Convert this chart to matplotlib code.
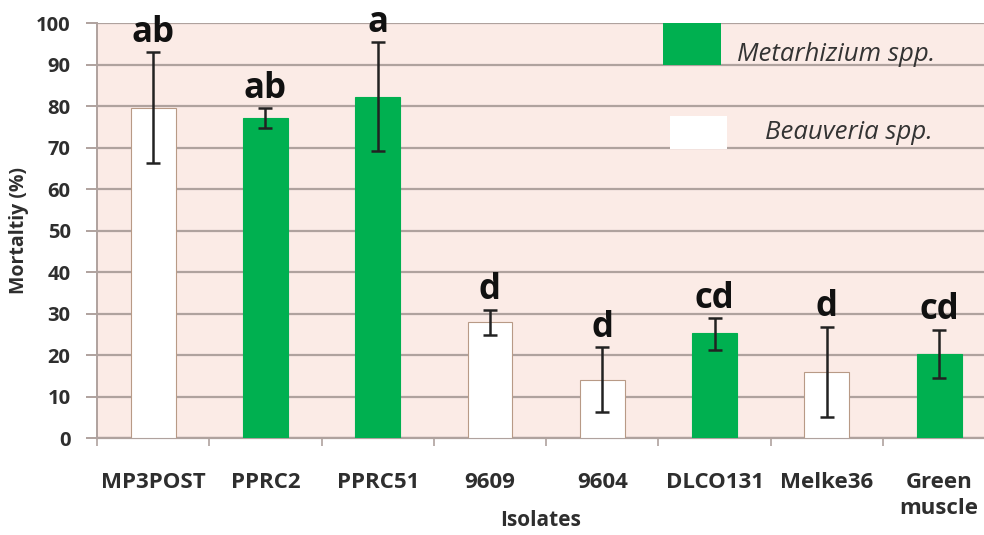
"""Mortality (%) of isolates, bar chart with SE bars and letter groups."""
import numpy as np
import matplotlib
matplotlib.use("Agg")
import matplotlib.pyplot as plt
from matplotlib.patches import Rectangle

isolates = ["MP3POST", "PPRC2", "PPRC51", "9609", "9604", "DLCO131", "Melke36", "Green\nmuscle"]
mortality = [79.5, 77.2, 82.2, 28.0, 14.0, 25.3, 16.0, 20.4]
err_hi = [93.0, 79.5, 95.4, 31.0, 22.0, 28.9, 26.9, 26.2]
err_lo = [66.3, 74.7, 69.2, 25.0, 6.4, 21.3, 5.1, 14.6]
letters = ["ab", "ab", "a", "d", "d", "cd", "d", "cd"]
genus = ["Beauveria", "Metarhizium", "Metarhizium", "Beauveria", "Beauveria",
         "Metarhizium", "Beauveria", "Metarhizium"]

GREEN = "#00B050"
BG = "#FBEBE6"
GRID = "#AFA29E"
TXT = "#2E2E2E"

plt.rcParams["font.family"] = ["Open Sans", "DejaVu Sans"]

fig = plt.figure(figsize=(9.84, 5.35), dpi=100)
ax = fig.add_axes([0.0986, 0.1807, 0.9014, 0.7757])
ax.set_facecolor(BG)

x = np.arange(len(isolates))
cols = [GREEN if g == "Metarhizium" else "white" for g in genus]
edges = [GREEN if g == "Metarhizium" else "#B89A86" for g in genus]
ax.bar(x, mortality, width=0.4, color=cols, edgecolor=edges, linewidth=0.8, zorder=3)

m = np.array(mortality)
yerr = [m - np.array(err_lo), np.array(err_hi) - m]
ax.errorbar(x, mortality, yerr=yerr, fmt="none", ecolor="#222222", capsize=5,
            elinewidth=1.8, capthick=1.8, zorder=4)

for i, lab in enumerate(letters):
    ax.text(x[i], err_hi[i] + 0.3, lab, ha="center", va="bottom", fontsize=25,
            fontweight="bold", color="#111111", zorder=5)

ax.set_ylim(0, 100)
ax.set_xlim(-0.5, 7.4)
ax.set_yticks(range(0, 101, 10))
ax.yaxis.grid(True, color=GRID, linewidth=1.6, zorder=1)
ax.set_axisbelow(True)
ax.tick_params(axis="y", length=8, width=1.4, color=GRID, labelsize=14.5, pad=11)
for t in ax.get_yticklabels():
    t.set_fontweight("bold")
    t.set_color(TXT)

ax.set_xticks(x)
ax.set_xticklabels(isolates, fontsize=16, fontweight="bold", color=TXT, linespacing=1.35)
ax.tick_params(axis="x", length=0, pad=24)
ax.set_xticks(np.arange(-0.5, 7.5, 1), minor=True)
ax.tick_params(axis="x", which="minor", length=6, width=1.2, color=GRID)

for s in ["top", "right"]:
    ax.spines[s].set_visible(False)
ax.spines["left"].set_color(GRID)
ax.spines["left"].set_linewidth(1.4)
ax.spines["bottom"].set_color(GRID)
ax.spines["bottom"].set_linewidth(1.6)

ax.set_ylabel("Mortaltiy (%)", fontsize=14, fontweight="bold", color=TXT, labelpad=5)
ax.set_xlabel("Isolates", fontsize=15, fontweight="bold", color=TXT, va="center")
ax.xaxis.set_label_coords(0.5, -0.197)

# legend boxes drawn by hand (as in the original figure)
ax.add_patch(Rectangle((0.638, 0.90), 0.066, 0.10, transform=ax.transAxes,
                       facecolor=GREEN, edgecolor="none", zorder=6, clip_on=False))
ax.text(0.722, 0.925, "Metarhizium spp.", transform=ax.transAxes, fontsize=18.5,
        style="italic", color="#333333", va="center", ha="left", zorder=6)
ax.add_patch(Rectangle((0.646, 0.697), 0.064, 0.08, transform=ax.transAxes,
                       facecolor="white", edgecolor="none", zorder=6))
ax.text(0.753, 0.737, "Beauveria spp.", transform=ax.transAxes, fontsize=18.5,
        style="italic", color="#333333", va="center", ha="left", zorder=6)

fig.savefig("out.png", dpi=100, facecolor="white")
